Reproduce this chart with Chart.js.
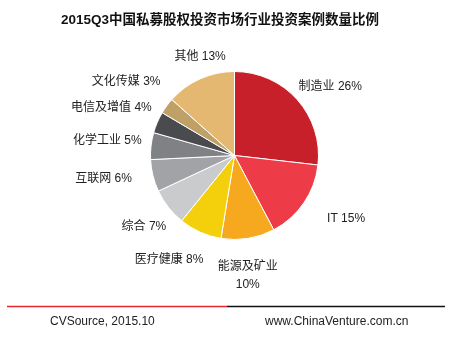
<!DOCTYPE html>
<html>
<head>
<meta charset="utf-8">
<script src="https://cdn.jsdelivr.net/npm/chart.js@4/dist/chart.umd.min.js"></script>
<style>
    html, body { margin: 0; padding: 0; background: #fff; }
    #wrap { position: relative; width: 461px; height: 338px; }
</style>
</head>
<body>
<div id="wrap"><canvas id="chartSectores" width="461" height="338"></canvas></div>
<script>
// Sectores y porcentaje de casos (2015Q3)
const sectores = ['制造业', 'IT', '能源及矿业', '医疗健康', '综合', '互联网', '化学工业', '电信及增值', '文化传媒', '其他'];
const porcentajes = [26, 15, 10, 8, 7, 6, 5, 4, 3, 13];
const colores = ['#C8202B', '#EE3B48', '#F6A81E', '#F4CF0C', '#C9CBCD', '#A2A3A6', '#808185', '#4A4B4E', '#BFA067', '#E5B871'];

const titulo = '2015Q3中国私募股权投资市场行业投资案例数量比例';
const fuente = 'CVSource, 2015.10';
const sitio = 'www.ChinaVenture.com.cn';

const FONT_CJK = '"Liberation Sans", Arial, "Noto Sans CJK SC", sans-serif';

// Etiquetas alrededor del pastel, a lo largo del ángulo medio de cada sector
const etiquetas = {
    id: 'etiquetas',
    afterDatasetsDraw(chart, args, opts) {
        const ctx = chart.ctx;
        const meta = chart.getDatasetMeta(0);
        ctx.save();
        ctx.font = '12px ' + FONT_CJK;
        ctx.fillStyle = '#222';
        ctx.textAlign = 'center';
        ctx.textBaseline = 'middle';
        meta.data.forEach((arc, i) => {
            const p = arc.getProps(['x', 'y', 'startAngle', 'endAngle'], true);
            // pequeño giro por etiqueta para que no se encimen
            const mid = (p.startAngle + p.endAngle) / 2 + (opts.giro[i] || 0) * Math.PI / 180;
            const d = opts.dist[i];
            const x = p.x + Math.cos(mid) * d;
            const y = p.y + Math.sin(mid) * d;
            if (Math.sin(mid) > 0.95) {
                // abajo: el porcentaje va en otra línea
                ctx.fillText(sectores[i], x, y - 9);
                ctx.fillText(porcentajes[i] + '%', x, y + 9);
            } else {
                ctx.fillText(sectores[i] + ' ' + porcentajes[i] + '%', x, y);
            }
        });
        ctx.restore();
    }
};

// Título y pie de página
const marco = {
    id: 'marco',
    afterDraw(chart) {
        const ctx = chart.ctx;
        ctx.save();
        ctx.fillStyle = '#111';
        ctx.font = 'bold 13.5px ' + FONT_CJK;
        ctx.textAlign = 'center';
        ctx.textBaseline = 'middle';
        ctx.fillText(titulo, 220, 20);

        ctx.lineWidth = 1.5;
        ctx.strokeStyle = '#E8262C';
        ctx.beginPath(); ctx.moveTo(7, 306.5); ctx.lineTo(227, 306.5); ctx.stroke();
        ctx.strokeStyle = '#111';
        ctx.beginPath(); ctx.moveTo(227, 306.5); ctx.lineTo(445, 306.5); ctx.stroke();

        ctx.fillStyle = '#222';
        ctx.font = '12px "Liberation Sans", Arial, sans-serif';
        ctx.textAlign = 'left';
        ctx.fillText(fuente, 50, 322);
        ctx.fillText(sitio, 265, 322);
        ctx.restore();
    }
};

const ctx = document.getElementById('chartSectores').getContext('2d');
new Chart(ctx, {
    type: 'pie',
    data: {
        labels: sectores,
        datasets: [{
            data: porcentajes,
            backgroundColor: colores,
            borderColor: '#ffffff',
            borderWidth: 1,
            hoverOffset: 0
        }]
    },
    options: {
        responsive: false,
        animation: false,
        events: [],
        layout: { padding: { top: 71, bottom: 98, left: 150, right: 142 } },
        plugins: {
            legend: { display: false },
            tooltip: { enabled: false },
            title: { display: false },
            etiquetas: {
                dist: [118, 128, 121, 123, 115, 133, 128, 132, 131, 105],
                giro: [6, -5, 3, 8, 0, 4, 0, -2, -2, 5]
            }
        }
    },
    plugins: [etiquetas, marco]
});
</script>
</body>
</html>
